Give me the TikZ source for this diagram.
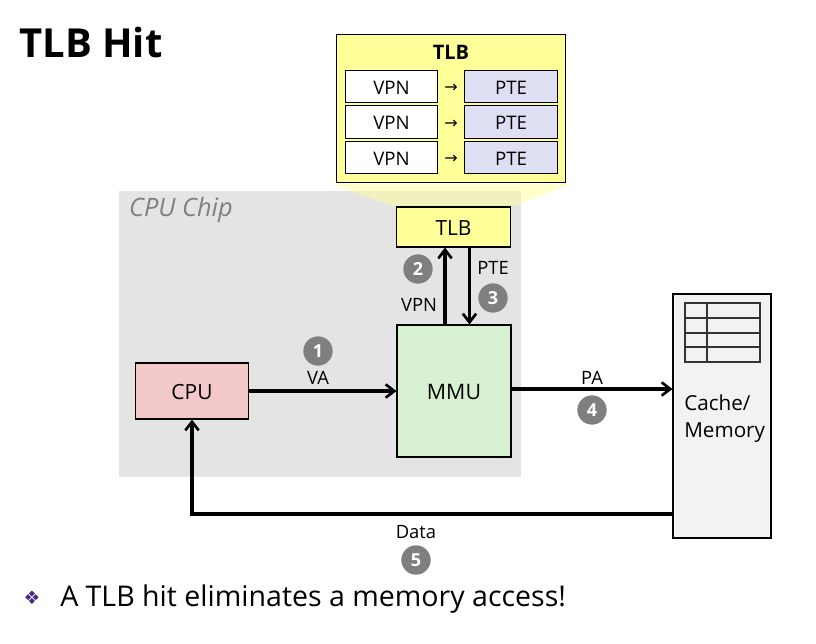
\documentclass[tikz,border=0pt]{standalone}
\usepackage{fontspec}
\setmainfont{Open Sans}
\newfontfamily\symfont{DejaVu Sans}
\usetikzlibrary{arrows.meta,positioning}
\definecolor{chipgray}{HTML}{E4E4E4}
\definecolor{palelemon}{HTML}{FFFF99}
\definecolor{palelilac}{HTML}{DFDFF3}
\definecolor{palerose}{HTML}{F2C8C8}
\definecolor{palegreen}{HTML}{D6F0D0}
\definecolor{memgray}{HTML}{F2F2F2}
\definecolor{stepgray}{HTML}{7F7F7F}
\definecolor{bulletpurple}{HTML}{4B2A86}
\begin{document}
\begin{tikzpicture}[x=.75pt,y=-.75pt,
  box/.style={draw=black,line width=.8pt,inner sep=0pt,align=center,text height=12.6pt,text depth=0pt,font=\fontsize{15.7}{18}\selectfont},
  entry/.style={box,text height=11.6pt,font=\fontsize{14}{16}\selectfont,minimum width=69.5pt,minimum height=24.5pt},
  lbl/.style={font=\fontsize{13.8}{16}\selectfont,inner sep=0pt},
  stepnum/.style={circle,fill=stepgray,text=white,minimum size=22pt,inner sep=0pt,font=\bfseries\fontsize{13.5}{16}\selectfont},
  link/.style={line width=2.3pt,-{Straight Barb[length=6.5pt,width=10pt,line width=2pt]}}]
\useasboundingbox (0,0) rectangle (816,643);
\fill[chipgray] (119,191) rectangle (521,477);
\fill[palelemon,opacity=.5] (331,184)--(571,184)--(511,207)--(396,207)--cycle;
\node[font=\itshape\fontsize{19}{22}\selectfont,text=black!50,inner sep=0pt] (chip) at (181,209.5) {CPU Chip};
\node[font=\bfseries\fontsize{30}{36}\selectfont,anchor=west,inner sep=0pt] (title) at (19,42.5) {TLB Hit};
\node[box,fill=palelemon,minimum width=172pt,minimum height=111pt] (zoom) at (451,108.5) {};
\node[font=\bfseries\fontsize{15}{18}\selectfont,inner sep=0pt] (zoomtitle) at (451,52) {TLB};
\foreach \i/\y in {1/86.5,2/122,3/157.5}{
  \node[entry,fill=white] (vpn\i) at (391.5,\y) {VPN};
  \node[entry,fill=palelilac] (pte\i) at (511,\y) {PTE};
  \node[font=\symfont\fontsize{12}{14}\selectfont,inner sep=0pt] (map\i) at (451,\y+2) {→};
}
\node[box,fill=palelemon,minimum width=85.5pt,minimum height=30pt] (tlb) at (453.5,227) {TLB};
\node[box,fill=palerose,minimum width=85pt,minimum height=42pt] (cpu) at (192,391) {CPU};
\node[box,fill=palegreen,minimum width=85.5pt,minimum height=99pt,font=\fontsize{16}{19}\selectfont] (mmu) at (454,391) {MMU};
\node[box,fill=memgray,minimum width=73.5pt,minimum height=183pt] (mem) at (722,416) {};
\draw[line width=.9pt,draw=black!80] (685,303) rectangle (760,362);
\foreach \y in {318,333,347} \draw[line width=.9pt,draw=black!80] (685,\y)--(760,\y);
\draw[line width=.9pt,draw=black!80] (707,303)--(707,362);
\node[font=\fontsize{15.5}{20}\selectfont,align=left,anchor=west,inner sep=0pt] (memtext) at (684,418.5) {Cache/\\Memory};
\draw[link] (cpu.east)--(cpu.east -| mmu.west);
\draw[link] ([xshift=-6.75pt]mmu.north)--([xshift=-6.75pt]mmu.north |- tlb.south);
\draw[link] ([xshift=11.6pt]mmu.north |- tlb.south)--([xshift=11.6pt]mmu.north);
\draw[link] ([yshift=1.5pt]mmu.east)--([yshift=1.5pt]mmu.east -| mem.west);
\draw[link] ([yshift=-73.5pt]mem.west)-|(cpu.south);
\node[lbl] (va) at (318,378) {VA};
\node[lbl] (vpn) at (419,305) {VPN};
\node[lbl] (pte) at (493,268) {PTE};
\node[lbl] (pa) at (592,378) {PA};
\node[lbl] (data) at (416,532) {Data};
\node[stepnum] (one) at (318,351) {1};
\node[stepnum] (two) at (418,269) {2};
\node[stepnum] (three) at (493,298) {3};
\node[stepnum] (four) at (592,410) {4};
\node[stepnum] (five) at (416,560) {5};
\node[font=\symfont\fontsize{14}{16}\selectfont,text=bulletpurple,inner sep=0pt] (bullet) at (32,598) {❖};
\node[font=\fontsize{21.4}{25}\selectfont,anchor=west,inner sep=0pt] (claim) at (60,599.5) {A TLB hit eliminates a memory access!};
\end{tikzpicture}
\end{document}
